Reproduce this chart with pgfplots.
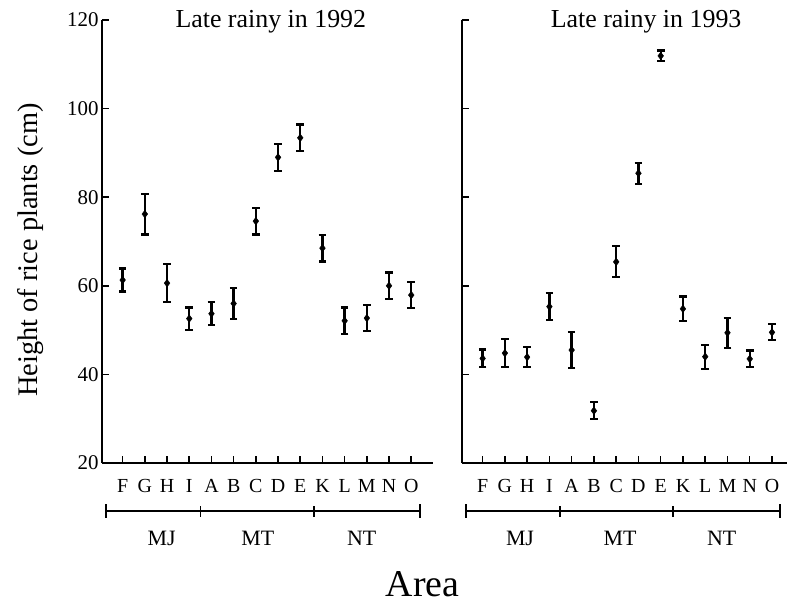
\documentclass[border=0pt]{standalone}
\usepackage{pgfplots}
\pgfplotsset{compat=1.18}
\usepackage{pgfplotstable}
\usepackage{fontspec}
\setmainfont{Liberation Serif}

\pgfplotstableread{
x y e
1 61.3 2.6
2 76.2 4.6
3 60.6 4.3
4 52.6 2.5
5 53.7 2.6
6 56.0 3.5
7 74.6 3.0
8 89.0 3.0
9 93.4 3.0
10 68.5 3.0
11 52.1 3.0
12 52.7 2.9
13 60.0 3.0
14 57.9 3.0
}\dataA

\pgfplotstableread{
x y e
1 43.6 2.0
2 44.8 3.2
3 43.9 2.3
4 55.3 3.0
5 45.5 4.0
6 31.8 1.9
7 65.4 3.5
8 85.4 2.4
9 111.9 1.2
10 54.8 2.8
11 44.0 2.7
12 49.4 3.4
13 43.5 1.9
14 49.5 1.8
}\dataB

\pgfplotsset{
  panel/.style={
    scale only axis,
    height=443bp,
    ymin=20, ymax=120,
    axis x line*=bottom,
    axis y line*=left,
    axis line style={line width=1.8bp, -},
    tick style={line width=1.5bp, black},
    tick align=inside,
    major tick length=7bp,
    ytick={20,40,...,120},
    xtick={1,...,14},
    xticklabels={F,G,H,I,A,B,C,D,E,K,L,M,N,O},
    xticklabel style={font=\fontsize{20}{20}\selectfont, anchor=base, yshift=-29bp},
    yticklabel style={font=\fontsize{21}{21}\selectfont},
    /pgf/number format/assume math mode=true,
    clip=false,
  },
  errplot/.style={
    black, only marks, mark=diamond*, mark size=3.8bp,
    error bars/.cd, y dir=both, y explicit,
    error bar style={line width=2.4bp, black},
    error mark options={rotate=90, mark size=3.8bp, line width=2.2bp, black},
  },
}

\begin{document}
\begin{tikzpicture}
\path[use as bounding box] (0,0) rectangle (787bp,603bp);

\begin{axis}[panel,
  at={(102bp,140bp)}, anchor=south west,
  width=331bp,
  xmin=0.07, xmax=14.98,
  title={Late rainy in 1992},
  title style={at={(0.51,1)}, anchor=base, yshift=-13bp, font=\fontsize{26}{26}\selectfont},
]
\addplot[errplot] table[x=x, y=y, y error=e] {\dataA};
\draw[line width=1.8bp] (axis cs:0.25,9.16) -- (axis cs:14.39,9.16);
\draw[line width=1.8bp] (axis cs:0.25,7.6) -- (axis cs:0.25,10.7);
\draw[line width=1.8bp] (axis cs:14.39,7.6) -- (axis cs:14.39,10.7);
\draw[line width=1.5bp] (axis cs:4.50,7.9) -- (axis cs:4.50,10.4);
\draw[line width=1.5bp] (axis cs:9.62,7.9) -- (axis cs:9.62,10.4);
\node[anchor=base, font=\fontsize{22}{22}\selectfont] at (axis cs:2.76,1.3) {MJ};
\node[anchor=base, font=\fontsize{22}{22}\selectfont] at (axis cs:7.09,1.3) {MT};
\node[anchor=base, font=\fontsize{22}{22}\selectfont] at (axis cs:11.77,1.3) {NT};
\end{axis}

\begin{axis}[panel,
  at={(461.7bp,140bp)}, anchor=south west,
  width=325.2bp,
  xmin=0.06, xmax=14.67,
  yticklabels={},
  title={Late rainy in 1993},
  title style={at={(0.567,1)}, anchor=base, yshift=-13bp, font=\fontsize{26}{26}\selectfont},
]
\addplot[errplot] table[x=x, y=y, y error=e] {\dataB};
\draw[line width=1.8bp] (axis cs:0.25,9.16) -- (axis cs:14.35,9.16);
\draw[line width=1.8bp] (axis cs:0.25,7.6) -- (axis cs:0.25,10.7);
\draw[line width=1.8bp] (axis cs:14.35,7.6) -- (axis cs:14.35,10.7);
\draw[line width=1.5bp] (axis cs:4.47,7.9) -- (axis cs:4.47,10.4);
\draw[line width=1.5bp] (axis cs:9.56,7.9) -- (axis cs:9.56,10.4);
\node[anchor=base, font=\fontsize{22}{22}\selectfont] at (axis cs:2.68,1.3) {MJ};
\node[anchor=base, font=\fontsize{22}{22}\selectfont] at (axis cs:7.17,1.3) {MT};
\node[anchor=base, font=\fontsize{22}{22}\selectfont] at (axis cs:11.74,1.3) {NT};
\end{axis}

\node[rotate=90, anchor=center, font=\fontsize{28.5}{28.5}\selectfont] at (30.4bp,353bp) {Height of rice plants (cm)};
\node[anchor=base, inner sep=0pt, font=\fontsize{38}{38}\selectfont] at (422.5bp,7bp) {Area};
\end{tikzpicture}
\end{document}
